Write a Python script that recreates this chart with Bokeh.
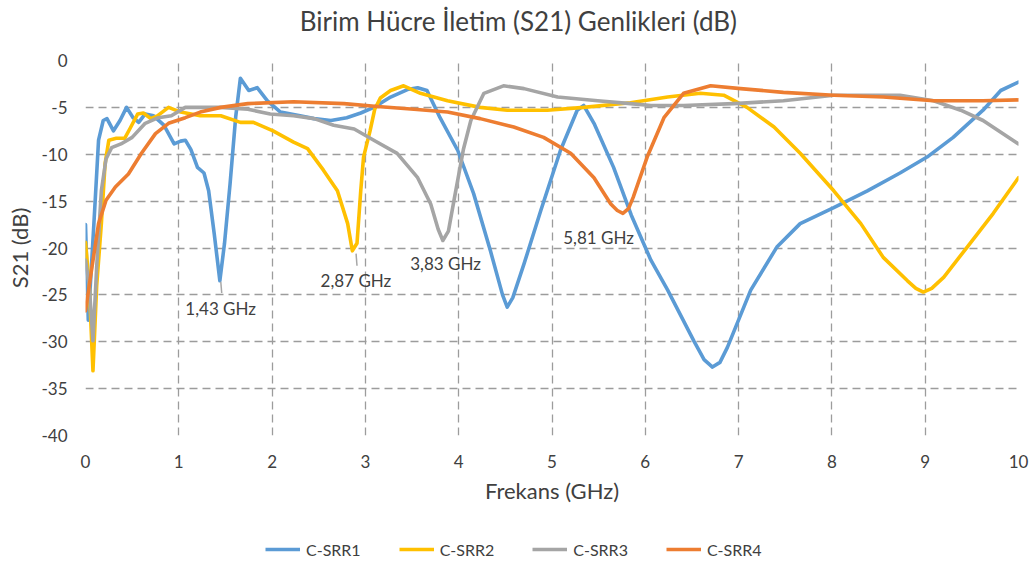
from bokeh.plotting import figure
from bokeh.layouts import column
from bokeh.models import Legend, LegendItem, Label, FixedTicker, Range1d, CustomJSTickFormatter
from bokeh.embed import file_html
from bokeh.resources import INLINE

# ---- data ----
title_text = "Birim Hücre İletim (S21) Genlikleri (dB)"
series_names = ["C-SRR1", "C-SRR2", "C-SRR3", "C-SRR4"]
series_colors = ["#5B9BD5", "#FFC000", "#A5A5A5", "#ED7D31"]

f1 = [0, 0.03, 0.09, 0.14, 0.19, 0.23, 0.3, 0.37, 0.44, 0.51, 0.57, 0.64, 0.73, 0.84, 0.95, 1.02, 1.07, 1.13,
      1.2, 1.27, 1.32, 1.38, 1.44, 1.49, 1.55, 1.61, 1.66, 1.75, 1.84, 1.95, 2.09, 2.3, 2.45, 2.63, 2.8, 2.95,
      3.09, 3.27, 3.45, 3.56, 3.66, 3.8, 3.99, 4.16, 4.34, 4.47, 4.52, 4.58, 4.7, 4.88, 5.09, 5.27, 5.34, 5.45, 5.66, 5.85,
      6.06, 6.24, 6.52, 6.63, 6.72, 6.8, 6.88, 7.13, 7.41, 7.66, 8.02, 8.38, 8.73, 9.02, 9.3, 9.62, 9.81, 10]
s1 = [-17.5, -27.7, -17.4, -8.5, -6.4, -6.2, -7.5, -6.4, -5.0, -6.1, -6.6, -5.7, -5.9, -6.9, -8.9, -8.6, -8.5, -9.5,
      -11.4, -12.0, -13.9, -18.5, -23.5, -19.5, -13.1, -6.0, -1.9, -3.2, -2.9, -4.3, -5.5, -5.9, -6.2, -6.4, -6.1, -5.6,
      -5.0, -3.9, -3.1, -2.9, -3.2, -6.1, -9.6, -14.2, -20.3, -25.0, -26.3, -25.3, -21.7, -16.0, -9.6, -5.3, -4.8, -6.7, -11.4, -16.5,
      -21.3, -24.5, -29.9, -31.9, -32.7, -32.2, -30.6, -24.5, -19.9, -17.4, -15.7, -13.9, -12.0, -10.3, -8.2, -5.3, -3.2, -2.3]

f2 = [0, 0.04, 0.08, 0.12, 0.17, 0.21, 0.25, 0.33, 0.42, 0.48, 0.56, 0.62, 0.7, 0.77, 0.89, 1.02, 1.23, 1.45,
      1.66, 1.8, 2.01, 2.23, 2.38, 2.55, 2.7, 2.81, 2.86, 2.91, 2.95, 2.98, 3.05, 3.1, 3.16, 3.27, 3.41, 3.59,
      3.88, 4.23, 4.52, 4.95, 5.34, 5.84, 6.24, 6.59, 6.84, 7.09, 7.38, 7.66, 8.02, 8.31, 8.55, 8.81, 8.9, 8.98,
      9.07, 9.2, 9.45, 9.73, 10]
s2 = [-19.4, -24.0, -33.1, -24.0, -17.4, -11.0, -8.5, -8.3, -8.3, -7.2, -5.7, -5.6, -6.2, -5.9, -5.0, -5.5, -5.9, -5.9,
      -6.6, -6.6, -7.5, -8.7, -9.4, -11.7, -13.9, -17.4, -20.3, -19.5, -13.9, -10.3, -7.5, -5.2, -4.0, -3.2, -2.7, -3.5,
      -4.3, -5.0, -5.3, -5.3, -5.0, -4.5, -3.9, -3.5, -3.7, -5.0, -7.1, -9.9, -13.9, -17.4, -21.0, -23.5, -24.3, -24.7,
      -24.3, -23.1, -19.9, -16.3, -12.5]

f3 = [0, 0.04, 0.08, 0.12, 0.17, 0.22, 0.28, 0.38, 0.5, 0.64, 0.78, 0.92, 1.07, 1.45, 1.74, 1.98, 2.23, 2.45,
      2.66, 2.88, 3.09, 3.34, 3.56, 3.7, 3.78, 3.83, 3.89, 3.95, 4.05, 4.13, 4.27, 4.48, 4.7, 5.06, 5.49, 5.84, 6.06, 6.41,
      6.95, 7.48, 8.02, 8.73, 9.09, 9.38, 9.62, 10]
s3 = [-21.3, -24.0, -29.9, -22.0, -13.9, -10.5, -9.3, -8.9, -8.2, -6.7, -6.1, -5.9, -5.0, -5.0, -5.2, -5.7, -5.9, -6.2,
      -6.9, -7.3, -8.5, -9.9, -12.5, -15.3, -18.0, -19.2, -18.2, -14.9, -9.5, -6.4, -3.5, -2.7, -3.0, -3.9, -4.3, -4.6, -4.8, -4.8,
      -4.6, -4.3, -3.7, -3.7, -4.3, -5.3, -6.4, -8.9]

f4 = [0, 0.07, 0.14, 0.22, 0.32, 0.46, 0.6, 0.75, 0.89, 1.07, 1.23, 1.45, 1.74, 2.23, 2.77, 3.13, 3.52, 3.88,
      4.23, 4.59, 4.91, 5.2, 5.45, 5.63, 5.7, 5.76, 5.82, 5.87, 6.02, 6.2, 6.41, 6.7, 7.02, 7.48, 8.02, 8.55, 9.09, 9.62, 10]
s4 = [-26.7, -22.0, -17.4, -14.9, -13.5, -12.1, -9.9, -7.8, -6.7, -6.1, -5.5, -5.0, -4.6, -4.4, -4.6, -4.9, -5.2, -5.5,
      -6.2, -7.1, -8.2, -9.9, -12.5, -15.3, -16.0, -16.3, -15.8, -14.6, -10.3, -6.1, -3.5, -2.7, -3.0, -3.4, -3.7, -3.9, -4.3, -4.3, -4.2]

freqs = [f1, f2, f3, f4]
vals = [s1, s2, s3, s4]

x_ticks = [0, 1, 2, 3, 4, 5, 6, 7, 8, 9, 10]
y_ticks = [-40, -35, -30, -25, -20, -15, -10, -5, 0]

# annotation texts and their anchor (left x, centre y) in data units
ann_text = ["1,43 GHz", "2,87 GHz", "3,83 GHz", "5,81 GHz"]
ann_x = [1.07, 2.52, 3.48, 5.12]
ann_y = [-26.5, -23.5, -21.7, -18.9]
# leader lines below two dips
lead_x = [[1.45, 1.46], [2.9, 2.91]]
lead_y = [[-23.6, -24.8], [-20.6, -21.9]]

FONT = "Lato"
TXT = "#404040"
FW, FL, FR = 933, 85, 18   # frame width, left border, right border (shared by the strips)

# ---- title strip ----
tf = figure(frame_width=FW, frame_height=40, output_backend="svg", toolbar_location=None,
            x_axis_type=None, y_axis_type=None,
            min_border_left=FL, min_border_right=FR, min_border_top=0, min_border_bottom=0,
            x_range=Range1d(0, 10), y_range=Range1d(0, 1))
tf.outline_line_color = None
tf.xgrid.visible = False
tf.ygrid.visible = False
tf.add_layout(Label(x=4.64, y=0.5, text=title_text, text_font=FONT, text_font_size="26px",
                    text_color=TXT, text_align="center", text_baseline="middle"))

# ---- main chart ----
p = figure(frame_width=FW, frame_height=375, output_backend="svg", toolbar_location=None,
           x_range=Range1d(0, 10), y_range=Range1d(-40, 0),
           min_border_left=FL, min_border_right=FR, min_border_top=20, min_border_bottom=90)

p.outline_line_color = None
p.background_fill_color = "white"
p.border_fill_color = "white"

for g in (p.xgrid, p.ygrid):
    g.grid_line_color = "#9c9c9c"
    g.grid_line_dash = "8 5"
    g.grid_line_width = 1.3

p.xaxis.ticker = FixedTicker(ticks=x_ticks)
p.yaxis.ticker = FixedTicker(ticks=y_ticks)
p.yaxis.formatter = CustomJSTickFormatter(code="return String(tick);")
for ax in (p.xaxis, p.yaxis):
    ax.axis_line_color = None
    ax.major_tick_line_color = None
    ax.minor_tick_line_color = None
    ax.major_tick_out = 0
    ax.major_tick_in = 0
    ax.minor_tick_out = 0
    ax.major_label_text_font = FONT
    ax.major_label_text_font_size = "17px"
    ax.major_label_text_color = TXT
    ax.axis_label_text_font = FONT
    ax.axis_label_text_font_size = "22px"
    ax.axis_label_text_font_style = "normal"
    ax.axis_label_text_color = TXT
p.xaxis.axis_label = "Frekans (GHz)"
p.yaxis.axis_label = "S21 (dB)"
p.xaxis.major_label_standoff = 19
p.xaxis.axis_label_standoff = 6
p.yaxis.major_label_standoff = 18
p.yaxis.axis_label_standoff = 5

for f, s, c in zip(freqs, vals, series_colors):
    p.line(f, s, line_color=c, line_width=3.6, line_join="round", line_cap="round")

for lx, ly in zip(lead_x, lead_y):
    p.line(lx, ly, line_color="#a6a6a6", line_width=1.5)

for t, x, y in zip(ann_text, ann_x, ann_y):
    p.add_layout(Label(x=x, y=y, text=t, text_font=FONT, text_font_size="17px",
                       text_color=TXT, text_baseline="middle", text_align="left"))

# ---- legend strip below the chart ----
lg = figure(frame_width=FW, frame_height=40, output_backend="svg", toolbar_location=None,
            x_axis_type=None, y_axis_type=None,
            min_border_left=FL, min_border_right=FR, min_border_top=0, min_border_bottom=0,
            x_range=Range1d(0, 1), y_range=Range1d(0, 1))
lg.outline_line_color = None
lg.xgrid.visible = False
lg.ygrid.visible = False
# off-range dummy lines: only their legend swatches are shown
lg_renderers = [lg.line([-5, -4], [-5, -4], line_color=c, line_width=3.6) for c in series_colors]
legend = Legend(items=[LegendItem(label=n, renderers=[r]) for n, r in zip(series_names, lg_renderers)],
                orientation="horizontal", location=(180, 6))
legend.border_line_color = None
legend.background_fill_alpha = 0
legend.label_text_font = FONT
legend.label_text_font_size = "16px"
legend.label_text_color = TXT
legend.glyph_width = 35
legend.label_standoff = 6
legend.spacing = 38
legend.padding = 0
legend.margin = 0
lg.add_layout(legend)

open("out.html", "w").write(file_html(column(tf, p, lg, spacing=0), INLINE))
